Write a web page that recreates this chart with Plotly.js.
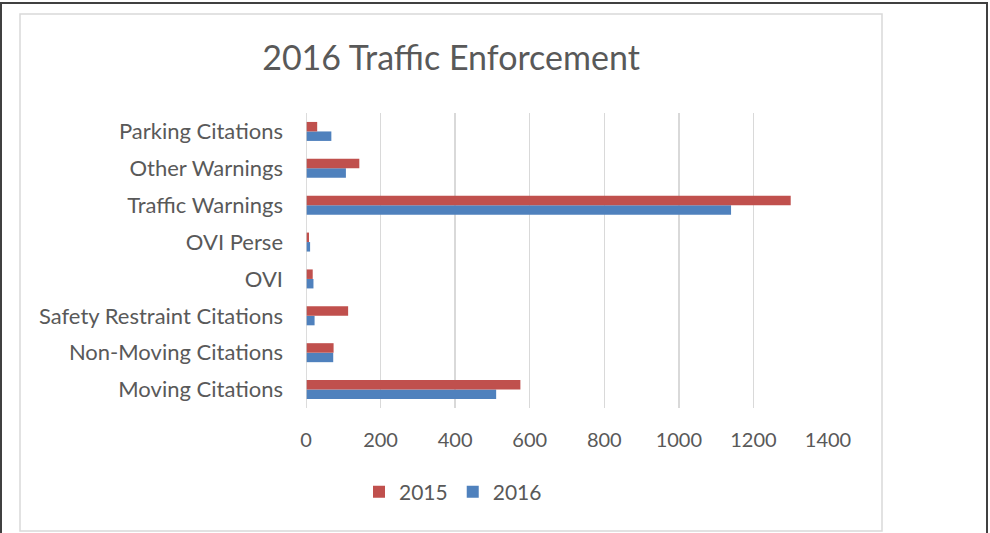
<!DOCTYPE html>
<html>
<head>
<meta charset="utf-8">
<script src="https://cdn.plot.ly/plotly-3.0.1.min.js"></script>
<style>html,body{margin:0;padding:0;background:#fff;}#chart{width:990px;height:533px;}</style>
</head>
<body>
<div id="chart"></div>
<script>
// Categories listed bottom to top (Plotly draws the first category at the bottom)
const categories = ["Moving Citations", "Non-Moving Citations", "Safety Restraint Citations", "OVI", "OVI Perse", "Traffic Warnings", "Other Warnings", "Parking Citations"];
const values2015 = [575, 74, 113, 18, 8, 1300, 143, 30];
const values2016 = [510, 73, 23, 20, 11, 1140, 107, 68];
const seriesNames = ["2015", "2016"];
const xTicks = [0, 200, 400, 600, 800, 1000, 1200, 1400];

// plot-area pixel frame (for converting decoration positions to paper coords)
const PL = 306, PR = 828, PT = 113, PB = 408;
const px = v => (v - PL) / (PR - PL);
const py = v => (PB - v) / (PB - PT);

const textColor = "#595959";
const font = "Lato, 'Open Sans', sans-serif";

const traces = [
  {type: "bar", orientation: "h", name: seriesNames[1], y: categories, x: values2016,
   marker: {color: "#4f81bd", line: {width: 0}}, hoverinfo: "x+name"},
  {type: "bar", orientation: "h", name: seriesNames[0], y: categories, x: values2015,
   marker: {color: "#c0504d", line: {width: 0}}, hoverinfo: "x+name"}
];

const layout = {
  width: 990, height: 533,
  margin: {l: PL, r: 990 - PR, t: PT, b: 533 - PB, pad: 0},
  paper_bgcolor: "#fff", plot_bgcolor: "#fff",
  font: {family: font, color: textColor, size: 20},
  title: {text: "2016 Traffic Enforcement", font: {family: font, size: 34, color: textColor},
          x: 451 / 990, xanchor: "center", y: 1 - 58 / 533, yanchor: "middle"},
  barmode: "group", bargap: 0.485, bargroupgap: 0,
  xaxis: {range: [0, 1400], tickvals: xTicks, ticktext: xTicks.map(String),
          showgrid: true, gridcolor: "#d9d9d9", gridwidth: 1.5, zeroline: false,
          showline: false, ticks: "", ticklabelstandoff: 18,
          tickfont: {size: 20, color: textColor, family: font}, fixedrange: true},
  yaxis: {type: "category", showgrid: false, zeroline: false, showline: false,
          ticks: "", ticklabelstandoff: 22,
          tickfont: {size: 22, color: textColor, family: font}, fixedrange: true},
  legend: {orientation: "h", traceorder: "reversed", x: px(453), xanchor: "center",
           y: py(492), yanchor: "middle", font: {size: 21, color: textColor, family: font},
           bgcolor: "rgba(0,0,0,0)"},
  showlegend: true,
  shapes: [
    // axis line at zero
    {type: "line", xref: "x", yref: "paper", x0: 0, x1: 0, y0: 0, y1: 1, line: {color: "#d0d0d0", width: 1.5}},
    // inner chart-area border
    {type: "rect", xref: "paper", yref: "paper", x0: px(20), x1: px(882), y0: py(14), y1: py(531),
     line: {color: "#d9d9d9", width: 1.5}, layer: "below"},
    // outer frame
    {type: "line", xref: "paper", yref: "paper", x0: px(0), x1: px(988), y0: py(3), y1: py(3), line: {color: "#404040", width: 2}},
    {type: "line", xref: "paper", yref: "paper", x0: px(1), x1: px(1), y0: py(3), y1: py(540), line: {color: "#404040", width: 2}},
    {type: "line", xref: "paper", yref: "paper", x0: px(987), x1: px(987), y0: py(3), y1: py(540), line: {color: "#404040", width: 2}}
  ]
};

Plotly.newPlot("chart", traces, layout, {displayModeBar: false, staticPlot: true});
</script>
</body>
</html>
